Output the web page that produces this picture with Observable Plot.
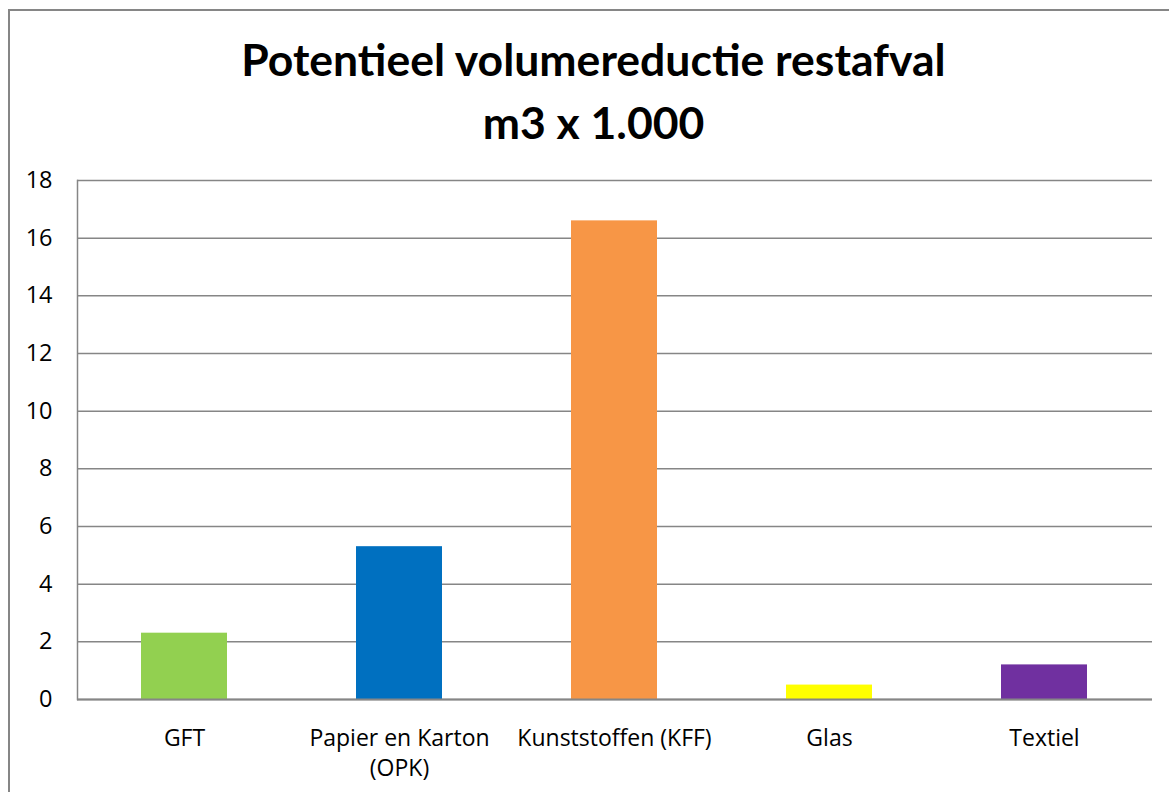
<!DOCTYPE html>
<html>
<head>
<meta charset="utf-8">
<script src="https://cdn.jsdelivr.net/npm/d3@7"></script>
<script src="https://cdn.jsdelivr.net/npm/@observablehq/plot@0.6"></script>
<style>
  html, body { margin: 0; padding: 0; background: #fff; }
  #wrap { position: relative; width: 1169px; height: 792px; overflow: hidden; font-family: Lato, "Open Sans", sans-serif; }
  #frame { position: absolute; left: 8px; top: 9px; width: 1200px; height: 900px; border-left: 2px solid #868686; border-top: 2px solid #868686; }
  #title { position: absolute; left: 9px; top: 27px; width: 1169px; text-align: center; font-weight: bold; font-size: 44.5px; line-height: 63px; color: #000; }
  #chart { position: absolute; left: 0; top: 150px; }
</style>
</head>
<body>
<div id="wrap">
  <div id="frame"></div>
  <div id="title">Potentieel volumereductie restafval<br>m3 x 1.000</div>
  <div id="chart"></div>
</div>
<script>
const categories = ["GFT", "Papier en Karton\n(OPK)", "Kunststoffen (KFF)", "Glas", "Textiel"];
const values = [2.3, 5.3, 16.6, 0.5, 1.2];
const colors = ["#92D050", "#0070C0", "#F79646", "#FFFF00", "#7030A0"];
const yTicks = [0, 2, 4, 6, 8, 10, 12, 14, 16, 18];

const data = categories.map((c, i) => ({cat: c, value: values[i], color: colors[i]}));

const chart = Plot.plot({
  width: 1169,
  height: 642,
  marginLeft: 77,
  marginRight: 17,
  marginTop: 30,
  marginBottom: 93,
  style: {fontFamily: "'Open Sans', sans-serif", fontSize: "23px", color: "#000", background: "transparent"},
  x: {domain: categories, paddingInner: 0.6, paddingOuter: 0.3, label: null},
  y: {domain: [0, 18], label: null},
  color: {type: "identity"},
  marks: [
    Plot.gridY(yTicks, {stroke: "#868686", strokeOpacity: 1, strokeWidth: 1.5}),
    Plot.barY(data, {x: "cat", y: "value", fill: "color"}),
    Plot.ruleY([0], {stroke: "#868686", strokeWidth: 2}),
    Plot.axisY(yTicks, {tickSize: 0, tickPadding: 25, fontSize: 23.5, fill: "#000", label: null}),
    Plot.axisX({tickSize: 0, tickPadding: 25, fontSize: 23, fill: "#000", lineHeight: 1.3, label: null}),
    Plot.frame({anchor: "left", stroke: "#868686", strokeWidth: 1.5})
  ]
});
document.getElementById("chart").appendChild(chart);
</script>
</body>
</html>
